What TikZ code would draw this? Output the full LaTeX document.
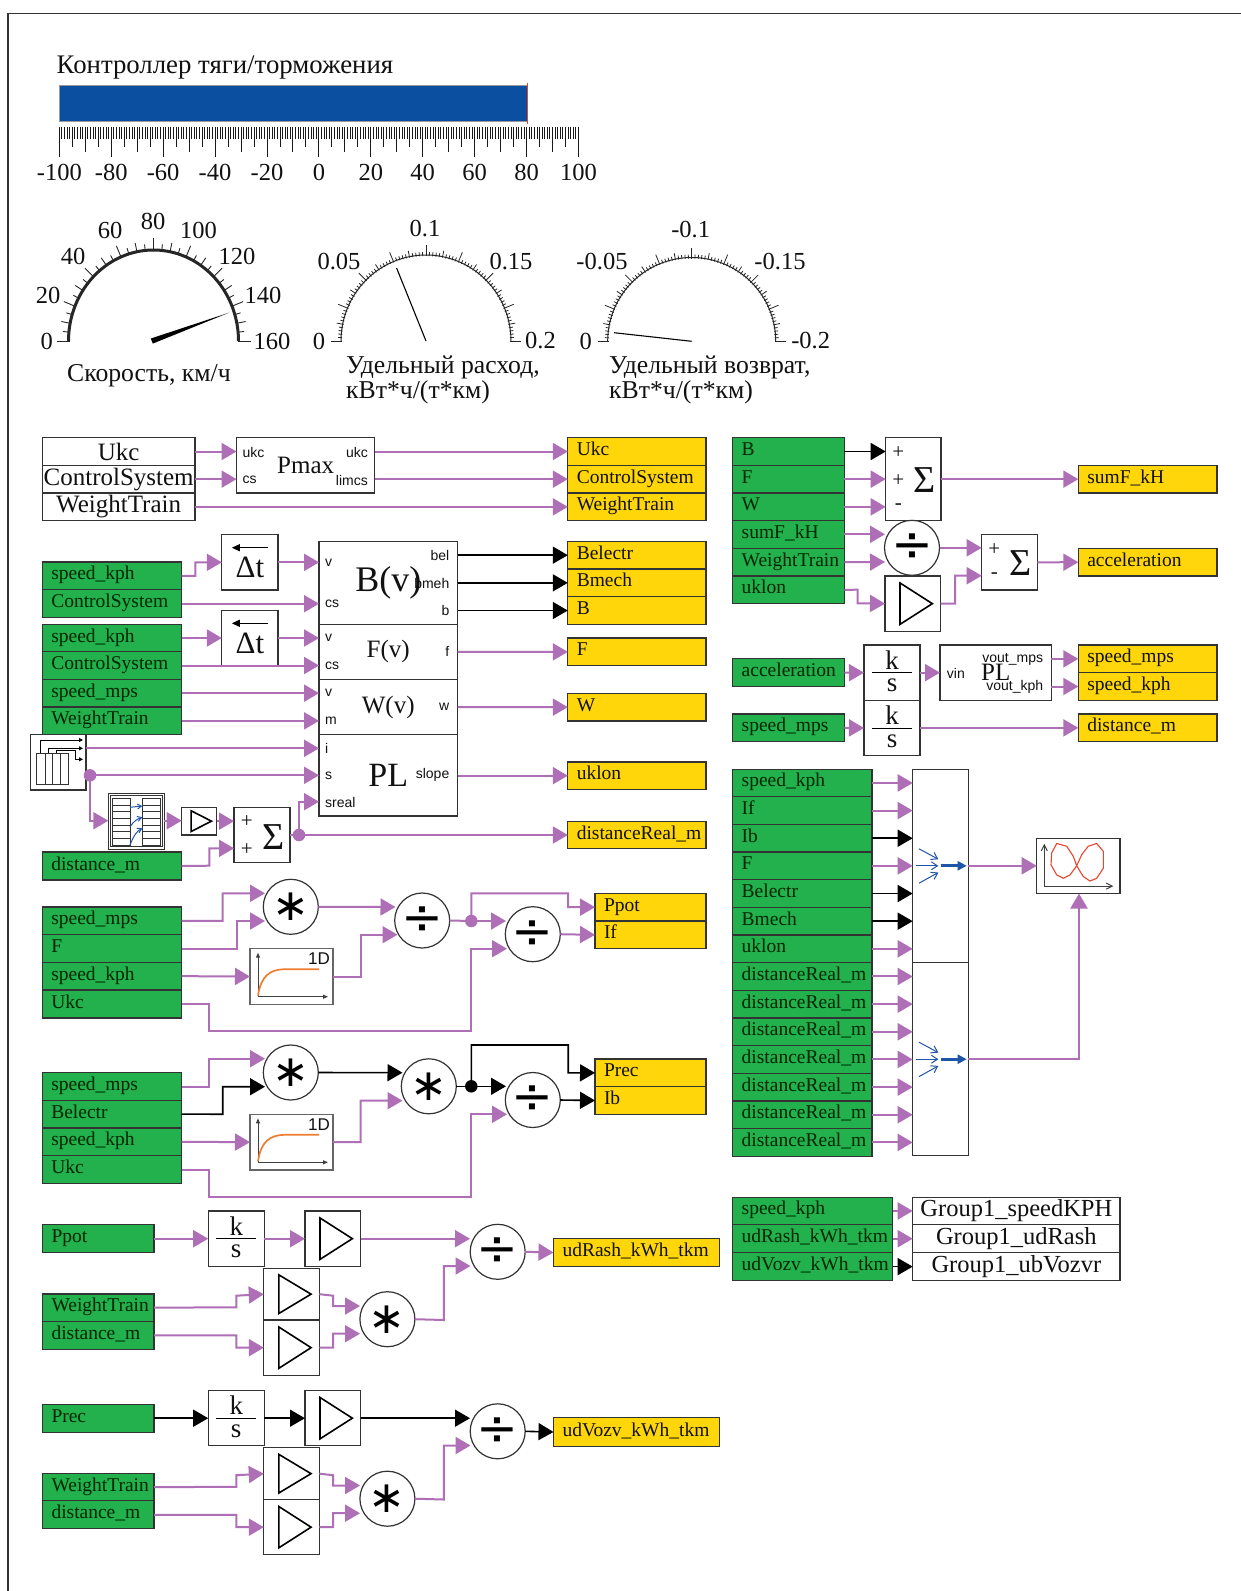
\documentclass[tikz,border=0pt]{standalone}
\usepackage{fontspec}
\setmainfont{Liberation Serif}
\newfontfamily\sansf{Liberation Sans}
\newfontfamily\dvf{DejaVu Sans}
\usetikzlibrary{arrows.meta}
\definecolor{wirec}{HTML}{AE6FB6}
\definecolor{grn}{HTML}{22B14C}
\definecolor{ylw}{HTML}{FFD60A}
\definecolor{barblue}{HTML}{0B4FA0}
\definecolor{icoblue}{HTML}{1F55A8}
\definecolor{edge}{HTML}{333333}
\definecolor{orng}{HTML}{ED7D31}
\definecolor{redl}{HTML}{E8452F}
\definecolor{txt}{HTML}{111111}
\newcommand\fs[1]{\fontsize{#1}{#1}\selectfont}
\tikzset{
 blk/.style={draw=edge,line width=1.2pt,fill=white,inner sep=0pt,outer sep=0pt,text=txt},
 grrow/.style={blk,fill=grn,text=black!85!green,font=\fs{19.5}},
 yerow/.style={blk,fill=ylw,font=\fs{19.5}},
 whrow/.style={blk,font=\fs{25}},
 grprow/.style={blk,font=\fs{24.5}},
 pw/.style={draw=wirec,line width=2pt,-{Triangle[length=15pt,width=17pt]}},
 bw/.style={draw=black,line width=1.6pt,-{Triangle[length=15pt,width=17pt]}},
 pln/.style={draw=wirec,line width=2pt},
 bln/.style={draw=black,line width=1.6pt},
 port/.style={font=\sansf\fs{14},inner sep=0pt,text=txt},
 big/.style={font=\fs{#1}},
 circ/.style={circle,draw=edge,line width=1.2pt,fill=white,minimum size=55pt,inner sep=0pt,outer sep=0pt},
 divn/.style={circ,font=\dvf\fs{50}},
 muln/.style={circ,font=\dvf\fs{44}},
 dotw/.style={circle,fill=wirec,minimum size=12.5pt,inner sep=0pt},
 dotb/.style={circle,fill=black,minimum size=12.5pt,inner sep=0pt},
 tri/.style={draw=black,line width=1.6pt,fill=white,line join=miter},
 scl/.style={font=\fs{24.5},inner sep=0pt,text=txt},
 captxt/.style={font=\fontsize{25.7}{25.5}\selectfont,inner sep=0pt,text=txt},
 sgn/.style={font=\fs{21},inner sep=0pt,text=txt},
 sig/.style={font=\fs{38},inner sep=0pt,text=txt},
}
% left-aligned box: [style]{name}{x1}{y1}{x2}{y2}{text}
\newcommand\DL[7][]{\pgfmathsetmacro\tw{(#5)-(#3)-18}%
 \node[blk,#1,inner xsep=9pt,minimum width={(#5)-(#3)},minimum height={(#6)-(#4)}] (#2) at ({((#3)+(#5))/2},{((#4)+(#6))/2}) {\makebox[\tw pt][l]{\rule[-6pt]{0pt}{20pt}#7}};}
\newcommand\DC[7][]{%
 \node[blk,#1,minimum width={(#5)-(#3)},minimum height={(#6)-(#4)}] (#2) at ({((#3)+(#5))/2},{((#4)+(#6))/2}) {#7};}
\newcommand\Gr[6]{\DL[grrow]{#1}{#2}{#3}{#4}{#5}{#6}}
\newcommand\Ye[6]{\DL[yerow]{#1}{#2}{#3}{#4}{#5}{#6}}
% gain block
\newcommand\Gain[5]{\DC{#1}{#2}{#3}{#4}{#5}{}%
 \draw[tri] ({(#2)+.27*((#4)-(#2))},{((#3)+(#5))/2-.374*((#5)-(#3))}) -- ({(#2)+.27*((#4)-(#2))},{((#3)+(#5))/2+.374*((#5)-(#3))}) -- ({(#2)+.85*((#4)-(#2))},{((#3)+(#5))/2}) -- cycle;}
% k/s block
\newcommand\KS[5]{\DC{#1}{#2}{#3}{#4}{#5}{}%
 \node[font=\fs{27},inner sep=0pt,text=txt] (#1k) at ({((#2)+(#4))/2},{((#3)+(#5))/2-13}) {k};
 \node[font=\fs{27},inner sep=0pt,text=txt] (#1s) at ({((#2)+(#4))/2},{((#3)+(#5))/2+13}) {s};
 \draw[black,line width=1pt] ({(#2)+8},{((#3)+(#5))/2}) -- ({(#4)-8},{((#3)+(#5))/2});}
% delay block
\newcommand\DT[5]{\DC{#1}{#2}{#3}{#4}{#5}{}%
 \node[font=\fs{31},inner sep=0pt,text=txt] (#1t) at ({((#2)+(#4))/2},{(#3)+33}) {Δt};
 \draw[black,line width=1.2pt,-{Triangle[length=8pt,width=7pt]}] ({(#4)-10},{(#3)+13}) -- ({(#2)+10},{(#3)+13});}
% 1D table
\newcommand\TD[3]{\DC[draw=black!60]{#1}{#2}{#3}{(#2)+83}{(#3)+55.6}{}%
 \draw[black!75,line width=1pt,-{Triangle[length=5pt,width=4pt]}] ({(#2)+8},{(#3)+48}) -- ({(#2)+78},{(#3)+48});
 \draw[black!75,line width=1pt,-{Triangle[length=5pt,width=4pt]}] ({(#2)+8},{(#3)+48}) -- ({(#2)+8},{(#3)+4});
 \draw[orng,line width=1.7pt] ({(#2)+8},{(#3)+47}) .. controls ({(#2)+11},{(#3)+27}) and ({(#2)+20},{(#3)+21}) .. ({(#2)+34},{(#3)+20.5}) -- ({(#2)+69},{(#3)+20.5});
 \node[font=\sansf\fs{17},inner sep=0pt,text=txt] (#1d) at ({(#2)+69},{(#3)+10}) {1D};}
% mux icon
\newcommand\MuxIcon[1]{%
 \begin{scope}[icoblue,line width=1pt]
 \draw[-{Straight Barb[length=6pt,width=8pt]}] (919,{848.8+#1}) -- (938.3,{859.2+#1});
 \draw[-{Straight Barb[length=6pt,width=8pt]}] (915.7,{865.8+#1}) -- (938.3,{865.8+#1});
 \draw[-{Straight Barb[length=6pt,width=8pt]}] (919,{883.2+#1}) -- (938.3,{872.5+#1});
 \draw[line width=3pt,-{Triangle[length=9pt,width=9pt]}] (940.7,{865.8+#1}) -- (966.7,{865.8+#1});
 \end{scope}}
% dial
\newcommand\Dial[7]{% cx cy rx ry arcwidth majorlen style(1 thick,0 thin)
 \draw[black!85,line width=#5pt] plot[domain=0:180,samples=70] ({(#1)-(#3)*cos(\x)},{(#2)-(#4)*sin(\x)});
 \ifnum#7=1
 \foreach \i in {0,...,32}{%
  \pgfmathsetmacro\aa{\i*5.625}%
  \pgfmathtruncatemacro\mm{mod(\i,4)==0 ? #6 : (mod(\i,2)==0 ? 9 : 6)}%
  \draw[black!85,line width=.9pt] ({(#1)-((#3)-1)*cos(\aa)},{(#2)-((#4)-1)*sin(\aa)}) -- ({(#1)-((#3)+\mm)*cos(\aa)},{(#2)-((#4)+\mm)*sin(\aa)});}
 \else
 \foreach \i in {0,...,80}{%
  \pgfmathsetmacro\aa{\i*2.25}%
  \pgfmathtruncatemacro\mm{mod(\i,10)==0 ? #6 : (mod(\i,5)==0 ? 6 : 3)}%
  \draw[black!85,line width=.8pt] ({(#1)-((#3)-1)*cos(\aa)},{(#2)-((#4)-1)*sin(\aa)}) -- ({(#1)-((#3)+\mm)*cos(\aa)},{(#2)-((#4)+\mm)*sin(\aa)});}
 \fi}
% lower energy group
\newcommand\UdGroup[6]{% prefix, yshift, wire, stem, green, yellow
\begin{scope}[name prefix=#1,yshift=-#2pt]
 \Gr{in}{42.5}{1224.7}{154}{1252.7}{#5}
 \KS{ks}{208.2}{1211}{264.3}{1266.3}
 \Gain{g1}{305}{1211}{360.7}{1266.3}
 \Gain{g2}{263.8}{1268.3}{319.4}{1320}
 \Gain{g3}{263.8}{1320}{319.4}{1375.3}
 \node[muln] (m) at (387.4,1319.2) {∗};
 \node[divn] (d) at (497.7,1251.8) {÷};
 \DL[yerow,inner xsep=9pt]{out}{553.5}{1238.3}{719.7}{1266.7}{#6}
 \Gr{wt}{42.5}{1294}{154}{1321.3}{WeightTrain}
 \Gr{ds}{42.5}{1321.3}{154}{1349.3}{distance\_m}
 \draw[#3] (in.east) -- (ks.west |- in.east);
 \draw[#3] (ks.east |- in.east) -- (g1.west |- in.east);
 \draw[#3] (g1.east |- in.east) -- (470,1238.7);
 \draw[#3] (d.east) -- (out.west);
 \draw[pw] (wt.east) -- (236.3,1307.3) -- (236.3,1295.7) -- (g2.west);
 \draw[pw] (ds.east) -- (236.3,1335.3) -- (236.3,1347.7) -- (g3.west);
 \draw[pw] (g2.east) -- (333,1295.7) -- (333,1306) -- (360,1306);
 \draw[pw] (g3.east) -- (333,1347.7) -- (333,1333.7) -- (360,1333.7);
 \draw[pw] (m.east) -- (443.8,1320) -- (443.8,1266) -- (470.5,1266);
\end{scope}}
\begin{document}
\begin{tikzpicture}[x=1pt,y=-1pt]
\useasboundingbox (0,0) rectangle (1241,1591);
\fill[white] (0,0) rectangle (1241,1591);
\draw[black!80,line width=1.2pt] (8,1591) -- (8,13.5) -- (1241,13.5);

% ---- controller bar
\node[font=\fs{26.8},anchor=west,inner sep=0pt,text=txt] (title) at (56.5,68) {Контроллер тяги/торможения};
\node[fill=barblue,draw=black!40,line width=.6pt,inner sep=0pt,minimum width=467.7pt,minimum height=35.3pt] (bar) at (293.2,103.3) {};
\draw[redl,line width=1.2pt] (527.7,83) -- (527.7,124);
\foreach \i in {0,...,200}{%
 \pgfmathsetmacro\rx{59.3+\i*2.596}%
 \pgfmathsetmacro\ll{mod(\i,20)==0 ? 157.3 : (mod(\i,10)==0 ? 152 : (mod(\i,5)==0 ? 146.7 : 138.5))}%
 \draw[black!90,line width=.9pt] (\rx,126.7) -- (\rx,\ll);}
\foreach \v [count=\k from 0] in {-100,-80,-60,-40,-20,0,20,40,60,80,100}{%
 \node[scl] (rl\k) at ({59.3+\k*51.92},172.3) {\v};}

% ---- dials
\Dial{153.5}{341}{85}{91}{3}{12}{1}
\foreach \t/\px/\py/\nn in {0/46.7/341/a,20/48/295/b,40/73/256.7/c,60/110/230/d,80/153/221.7/e,100/198.5/230/f,120/237/256.7/g,140/263/295/h,160/272/341/i}{%
 \node[scl] (ga\nn) at (\px,\py) {\t};}
\fill[black] (150.8,338.5) -- (229,312.7) -- (152.8,343.6) -- cycle;
\node[font=\fs{25.7},inner sep=0pt,anchor=west,text=txt] (gat) at (67,375.5) {Скорость, км/ч};

\Dial{426}{341}{85}{86}{1}{10}{0}
\foreach \t/\px/\py/\nn in {0/319/341/a,0.05/339/261.7/b,0.1/425/229/c,0.15/511/261.7/d,0.2/540.5/341/e}{%
 \node[scl] (gb\nn) at (\px,\py) {\t};}
\draw[black,line width=1.1pt] (426,341) -- (396.6,268);
\node[captxt,anchor=west,align=left] (gbt) at (346,380) {Удельный расход,\\кВт*ч/(т*км)};

\Dial{691.7}{341}{84}{83.5}{1}{10}{0}
\foreach \t/\px/\py/\nn in {0/585.7/341/a,-0.05/602/261.7/b,-0.1/690.7/229.3/c,-0.15/780/261.7/d,-0.2/810.7/341/e}{%
 \node[scl] (gc\nn) at (\px,\py) {\t};}
\draw[black,line width=1.1pt] (691.7,341.3) -- (614,332.7);
\node[captxt,anchor=west,align=left] (gct) at (609,380) {Удельный возврат,\\кВт*ч/(т*км)};

% ---- Pmax row
\DC[whrow]{w1}{42.3}{437.7}{195}{465.3}{Ukc}
\DC[whrow]{w2}{42.3}{465.3}{195}{493}{ControlSystem}
\DC[whrow]{w3}{42.3}{493}{195}{520.7}{WeightTrain}
\DC{pm}{236.5}{437.7}{374.5}{493}{}
\node[font=\fs{25},inner sep=0pt,text=txt] (pmt) at (305.7,465) {Pmax};
\node[port,anchor=west] (pm1) at (242.5,452) {ukc};
\node[port,anchor=west] (pm2) at (242.5,480) {cs};
\node[port,anchor=east] (pm3) at (368,452) {ukc};
\node[port,anchor=east] (pm4) at (368,480) {limcs};
\Ye{y1}{567.8}{437.7}{706}{465.3}{Ukc}
\Ye{y2}{567.8}{465.3}{706}{493}{ControlSystem}
\Ye{y3}{567.8}{493}{706}{520.7}{WeightTrain}
\draw[pw] (w1.east) -- (pm.west |- w1.east);
\draw[pw] (w2.east) -- (pm.west |- w2.east);
\draw[pw] (pm.east |- y1.west) -- (y1.west);
\draw[pw] (pm.east |- y2.west) -- (y2.west);
\draw[pw] (w3.east) -- (y3.west);

% ---- B F W PL
\Gr{a1}{42.3}{562}{181.6}{589.7}{speed\_kph}
\Gr{a2}{42.3}{589.7}{181.6}{617.3}{ControlSystem}
\Gr{a3}{42.3}{624.3}{181.6}{651.7}{speed\_kph}
\Gr{a4}{42.3}{651.7}{181.6}{679.3}{ControlSystem}
\Gr{a5}{42.3}{679.3}{181.6}{707}{speed\_mps}
\Gr{a6}{42.3}{707}{181.6}{734.7}{WeightTrain}
\DT{dt1}{221.8}{534.7}{278}{590}
\DT{dt2}{221.8}{610.3}{278}{665.7}
\DC[big=36]{bv}{319}{541.3}{457.5}{624.3}{B(v)}
\DC[big=25]{fv}{319}{624.3}{457.5}{679.3}{F(v)}
\DC[big=25]{wv}{319}{679.3}{457.5}{734.7}{W(v)}
\DC[big=34]{pl}{319}{734.7}{457.5}{816}{PL}
\foreach \n/\px/\py/\t in {p1/325/563/v,p2/325/603.7/cs,p3/325/638/v,p4/325/666/cs,p5/325/693/v,p6/325/721/m,p7/325/748/i,p8/325/775.3/s,p9/325/802.7/sreal}{%
 \node[port,anchor=west] (\n) at (\px,\py) {\t};}
\foreach \n/\py/\t in {q1/555.5/bel,q2/583/bmeh,q3/610.3/b,q4/651.7/f,q5/707/w,q6/775.3/slope}{%
 \node[port,anchor=east] (\n) at (449.5,\py) {\t};}
\Ye{b1}{567.8}{541.3}{706}{569}{Belectr}
\Ye{b2}{567.8}{569}{706}{596.7}{Bmech}
\Ye{b3}{567.8}{596.7}{706}{624.3}{B}
\Ye{b4}{567.8}{638}{706}{665.7}{F}
\Ye{b5}{567.8}{693.3}{706}{721}{W}
\Ye{b6}{567.8}{762}{706}{789.3}{uklon}
\Ye{b7}{567.8}{821.3}{706}{848.7}{distanceReal\_m}
\draw[pw] (a1.east) -- (195.4,575.8) -- (195.4,562.3) -- (dt1.west);
\draw[pw] (dt1.east) -- (bv.west |- dt1.east);
\draw[pw] (a2.east |- 0,603.7) -- (bv.west |- 0,603.7);
\draw[pw] (a3.east) -- (dt2.west |- a3.east);
\draw[pw] (dt2.east |- a3.east) -- (fv.west |- a3.east);
\draw[pw] (a4.east) -- (fv.west |- a4.east);
\draw[pw] (a5.east) -- (wv.west |- a5.east);
\draw[pw] (a6.east) -- (wv.west |- a6.east);
\draw[bw] (bv.east |- b1.west) -- (b1.west);
\draw[bw] (bv.east |- b2.west) -- (b2.west);
\draw[bw] (bv.east |- b3.west) -- (b3.west);
\draw[pw] (fv.east) -- (b4.west);
\draw[pw] (wv.east) -- (b5.west);
\draw[pw] (pl.east |- b6.west) -- (b6.west);

% selector
\DC{sel}{30.3}{734.7}{86}{790}{}
\draw[edge,line width=1pt] (36.7,753.3) rectangle (68.3,784.3) (45,753.3) -- (45,784.3) (52.7,753.3) -- (52.7,784.3) (60,753.3) -- (60,784.3);
\draw[black,line width=.9pt,-{Triangle[length=4pt,width=4pt]}] (40.7,753.3) -- (40.7,740) -- (83,740);
\draw[black,line width=.9pt,-{Triangle[length=4pt,width=4pt]}] (48.3,753.3) -- (48.3,748.3) -- (83,748.3);
\draw[black,line width=.9pt,-{Triangle[length=4pt,width=4pt]}] (56.7,753.3) -- (56.7,750.7) -- (75,750.7) -- (75,759.3) -- (83,759.3);
% lookup
\DC[line width=1pt]{lk}{108.3}{793.3}{164.3}{849}{}
\draw[edge,line width=.7pt] (110.6,795.6) rectangle (162,846.7);
\foreach \xa/\xb in {112.7/130,142.3/160}{%
 \draw[edge,line width=.9pt] (\xa,798.3) rectangle (\xb,845);
 \foreach \j in {1,...,6}{\draw[edge,line width=.9pt] (\xa,{798.3+\j*6.67}) -- (\xb,{798.3+\j*6.67});}}
\draw[icoblue,line width=1pt,-{Straight Barb[length=4pt,width=5pt]}] (130,807.3) -- (142.3,806);
\draw[icoblue,line width=1pt,-{Straight Barb[length=4pt,width=5pt]}] (130,826.7) .. controls (134,821) and (137,819) .. (142.3,817.3);
\draw[icoblue,line width=1pt,-{Straight Barb[length=4pt,width=5pt]}] (130,845) .. controls (134,835) and (137,831) .. (142.3,828.3);
\Gain{gn}{181.7}{807.3}{216.7}{835}
\DC{sm}{234}{807.3}{290}{862.3}{}
\node[sgn] (smp1) at (246.7,821.7) {+};
\node[sgn] (smp2) at (246.7,849.3) {+};
\node[sig] (sms) at (274,836.7) {Σ};
\Gr{a7}{42.3}{852}{181.7}{880}{distance\_m}
\draw[pw] (sel.east |- 0,748.3) -- (pl.west |- 0,748.3);
\node[dotw] (ds) at (90,775.3) {};
\draw[pw] (ds.center) -- (pl.west |- ds.center);
\draw[pw] (ds.center) -- (90,820.7) -- (lk.west |- 0,820.7);
\draw[pw] (lk.east |- 0,820.7) -- (gn.west |- 0,820.7);
\draw[pw] (gn.east) -- (sm.west |- gn.east);
\draw[pw] (a7.east) -- (209.3,865.7) -- (209.3,848.3) -- (sm.west |- 0,848.3);
\node[dotw] (ds2) at (299,835) {};
\draw[pln] (sm.east |- ds2.center) -- (ds2.center);
\draw[pw] (ds2.center) -- (b7.west);
\draw[pw] (ds2.center) -- (299,801.7) -- (pl.west |- 0,801.7);

% ---- Ppot block
\Gr{c1}{42.3}{907}{181.6}{934.7}{speed\_mps}
\Gr{c2}{42.3}{934.7}{181.6}{962.3}{F}
\Gr{c3}{42.3}{962.3}{181.6}{990}{speed\_kph}
\Gr{c4}{42.3}{990}{181.6}{1018}{Ukc}
\node[muln] (c5) at (290.8,906.8) {∗};
\node[divn] (c6) at (422.2,920.5) {÷};
\node[divn] (c7) at (532.8,934.2) {÷};
\TD{c8}{250}{948.7}
\Ye{c9}{595}{893.3}{706}{921}{Ppot}
\Ye{c10}{595}{921}{706}{948.7}{If}
\node[dotw] (c11) at (471.3,921) {};
\draw[pw] (c1.east) -- (222.7,920.8) -- (222.7,893.3) -- (265,893.3);
\draw[pw] (c2.east) -- (236.5,948.5) -- (236.5,921) -- (265,921);
\draw[pw] (c3.east) -- (c8.west);
\draw[pw] (c4.east) -- (208.8,1004) -- (208.8,1031.3) -- (471.3,1031.3) -- (471.3,948.7) -- (507,948.7);
\draw[pw] (c5.east) -- (395.5,907);
\draw[pw] (c8.east) -- (360.6,976.5) -- (360.6,934.7) -- (397.5,934.7);
\draw[pln] (c6.east) -- (c11.center);
\draw[pw] (c11.center) -- (506,921);
\draw[pw] (c11.center) -- (471.3,893.3) -- (568.2,893.3) -- (568.2,907.2) -- (c9.west);
\draw[pw] (c7.east) -- (c10.west);

% ---- Prec block
\Gr{e1}{42.3}{1072.7}{181.6}{1100.3}{speed\_mps}
\Gr{e2}{42.3}{1100.3}{181.6}{1128}{Belectr}
\Gr{e3}{42.3}{1128}{181.6}{1155.7}{speed\_kph}
\Gr{e4}{42.3}{1155.7}{181.6}{1183.7}{Ukc}
\node[muln] (e5) at (290.8,1072.5) {∗};
\node[muln] (e6) at (428.8,1086.3) {∗};
\node[divn] (e7) at (532.8,1100) {÷};
\TD{e8}{250}{1114.3}
\Ye{e9}{595}{1059}{706}{1086.7}{Prec}
\Ye{e10}{595}{1086.7}{706}{1114.3}{Ib}
\node[dotb] (e11) at (471.3,1086.3) {};
\draw[pw] (e1.east) -- (208.8,1086.5) -- (208.8,1058.7) -- (265,1058.7);
\draw[bw] (e2.east) -- (222.7,1114.2) -- (222.7,1086.7) -- (265,1086.7);
\draw[pw] (e3.east) -- (e8.west);
\draw[pw] (e4.east) -- (208.8,1169.7) -- (208.8,1197) -- (471.3,1197) -- (471.3,1114.3) -- (507,1114.3);
\draw[bw] (e5.east) -- (402.5,1072.7);
\draw[pw] (e8.east) -- (360.6,1142) -- (360.6,1100.7) -- (402.5,1100.7);
\draw[bln] (e6.east) -- (e11.center);
\draw[bw] (e11.center) -- (506,1086.3);
\draw[bw] (e11.center) -- (471.3,1045) -- (568.2,1045) -- (568.2,1072.8) -- (e9.west);
\draw[bw] (e7.east) -- (e10.west);

% ---- lower groups
\UdGroup{u-}{0}{pw}{pln}{Ppot}{udRash\_kWh\_tkm}
\UdGroup{v-}{179.5}{bw}{bln}{Prec}{udVozv\_kWh\_tkm}

% ---- right: forces
\Gr{f1}{732.7}{437.7}{844.3}{465.3}{B}
\Gr{f2}{732.7}{465.3}{844.3}{493}{F}
\Gr{f3}{732.7}{493}{844.3}{520.7}{W}
\Gr{f4}{732.7}{520.7}{844.3}{548.3}{sumF\_kH}
\Gr{f5}{732.7}{548.3}{844.3}{576}{WeightTrain}
\Gr{f6}{732.7}{576}{844.3}{603.7}{uklon}
\DC{f7}{885.7}{437.7}{941}{520.7}{}
\node[sgn] (f7a) at (898.3,452.7) {+};
\node[sgn] (f7b) at (898.3,480.7) {+};
\node[sgn] (f7c) at (898.3,507) {-};
\node[sig] (f7d) at (924.3,480) {Σ};
\node[divn] (f8) at (912,547.8) {÷};
\Gain{f9}{885}{576}{940.7}{631.3}
\DC{f10}{981.7}{534.7}{1037.3}{590}{}
\node[sgn] (f10a) at (994.3,549.3) {+};
\node[sgn] (f10b) at (994.3,576) {-};
\node[sig] (f10c) at (1021,563.3) {Σ};
\Ye{f11}{1078.3}{465.3}{1217}{493}{sumF\_kH}
\Ye{f12}{1078.3}{548.3}{1217}{576}{acceleration}
\draw[bw] (f1.east) -- (f7.west |- f1.east);
\draw[pw] (f2.east) -- (f7.west |- f2.east);
\draw[pw] (f3.east) -- (f7.west |- f3.east);
\draw[pw] (f4.east |- 0,534.3) -- (885,534.3);
\draw[pw] (f5.east) -- (885,562);
\draw[pw] (f6.east) -- (857.7,589.7) -- (857.7,603.3) -- (f9.west);
\draw[pw] (f7.east |- f11.west) -- (f11.west);
\draw[pw] (f8.east) -- (f10.west |- f8.east);
\draw[pw] (f9.east) -- (955,603.6) -- (955,575.7) -- (f10.west |- 0,575.7);
\draw[pw] (f10.east) -- (f12.west);

% ---- integrators
\Gr{h1}{732.7}{658.7}{844.3}{686.7}{acceleration}
\Gr{h2}{732.7}{714}{844.3}{741.7}{speed\_mps}
\KS{h3}{864}{645}{920}{700.3}
\KS{h4}{864}{700.3}{920}{755.7}
\DC{h5}{940}{645}{1051.3}{700.3}{}
\node[font=\fs{25},inner sep=0pt,text=txt] (h5t) at (995.7,672.7) {PL};
\node[port,anchor=west] (h5a) at (946.7,673.3) {vin};
\node[port,anchor=east] (h5b) at (1043.3,659) {vout\_mps};
\node[port,anchor=east] (h5c) at (1043.3,686.5) {vout\_kph};
\Ye{h6}{1078.3}{645}{1217}{672.7}{speed\_mps}
\Ye{h7}{1078.3}{672.7}{1217}{700.3}{speed\_kph}
\Ye{h8}{1078.3}{714}{1217}{741.7}{distance\_m}
\draw[pw] (h1.east) -- (h3.west);
\draw[pw] (h3.east) -- (h5.west);
\draw[pw] (h2.east) -- (h4.west);
\draw[pw] (h4.east |- h8.west) -- (h8.west);
\draw[pw] (h5.east |- h6.west) -- (h6.west);
\draw[pw] (h5.east |- h7.west) -- (h7.west);

% ---- mux and scope
\foreach \t/\nn [count=\k from 0] in {speed\_kph/0,If/1,Ib/2,F/3,Belectr/4,Bmech/5,uklon/6,distanceReal\_m/7,distanceReal\_m/8,distanceReal\_m/9,distanceReal\_m/10,distanceReal\_m/11,distanceReal\_m/12,distanceReal\_m/13}{%
 \pgfmathsetmacro\ya{769.1+\k*27.65}\pgfmathsetmacro\yb{\ya+27.65}%
 \Gr{mr\nn}{732.7}{\ya}{872}{\yb}{\t}}
\DC{mx1}{912.7}{769.1}{968.3}{962.8}{}
\DC{mx2}{912.7}{962.8}{968.3}{1155.8}{}
\foreach \k in {0,1,3,6,7,8,9,10,11,12,13}{\draw[pw] (mr\k.east) -- ++(40.7,0);}
\foreach \k in {2,4,5}{\draw[bw] (mr\k.east) -- ++(40.7,0);}
\MuxIcon{0}
\MuxIcon{193.4}
\DC{sc}{1036.7}{838.1}{1120}{893.5}{}
\draw[black!75,line width=1pt,-{Straight Barb[length=6pt,width=6pt]}] (1044.3,886.1) -- (1113.3,886.1);
\draw[black!75,line width=1pt,-{Straight Barb[length=6pt,width=6pt]}] (1044.3,886.1) -- (1044.3,843.8);
\draw[redl,line width=1.1pt,line join=round] (1076.7,865.8) -- (1073.3,856.3) -- (1066.7,846.2) -- (1056.7,843.5) -- (1051.7,853) -- (1051,864.8) -- (1056.7,874.9) -- (1063.3,878.3) -- (1070,874.9) -- (1076.7,865.8) -- (1081.7,854.7) -- (1088.3,846.2) -- (1096.7,843.5) -- (1103.3,851.3) -- (1103.3,868.2) -- (1096.7,878.3) -- (1090,881) -- (1083.3,876.6) -- cycle;
\draw[pw] (mx1.east |- sc.west) -- (sc.west);
\draw[pw] (mx2.east |- 0,1059.2) -- (1079,1059.2) -- (sc.south -| 1079,0);

% ---- groups
\Gr{k1}{732.7}{1197.1}{892.7}{1224.8}{speed\_kph}
\Gr{k2}{732.7}{1224.8}{892.7}{1252.6}{udRash\_kWh\_tkm}
\Gr{k3}{732.7}{1252.6}{892.7}{1280.6}{udVozv\_kWh\_tkm}
\DC[grprow]{k4}{912.7}{1197.1}{1120}{1224.8}{Group1\_speedKPH}
\DC[grprow]{k5}{912.7}{1224.8}{1120}{1252.6}{Group1\_udRash}
\DC[grprow]{k6}{912.7}{1252.6}{1120}{1280.6}{Group1\_ubVozvr}
\draw[pw] (k1.east) -- (k4.west);
\draw[pw] (k2.east) -- (k5.west);
\draw[bw] (k3.east) -- (k6.west);
\end{tikzpicture}
\end{document}
